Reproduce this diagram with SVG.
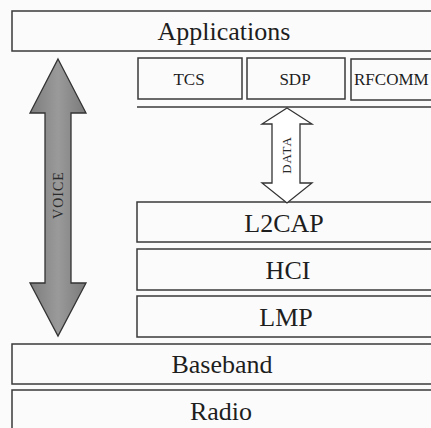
<svg xmlns="http://www.w3.org/2000/svg" width="431" height="428" viewBox="0 0 431 428">
  <style>
    .box { fill: #fbfbfb; stroke: #3a3a3a; stroke-width: 1.5; }
    .lbl { fill: #1e1e1e; text-anchor: middle; }
    .big { font-size: 26px; }
    .small { font-size: 17px; }
    .arrow-txt { fill: #2a2a2a; font-size: 14px; text-anchor: middle; letter-spacing: 1px; }
  </style>
  <defs>
    <linearGradient id="voiceFill" x1="0" y1="0" x2="1" y2="0">
      <stop offset="0" stop-color="#7d7d7d"/>
      <stop offset="0.5" stop-color="#9a9a9a"/>
      <stop offset="1" stop-color="#7a7a7a"/>
    </linearGradient>
  </defs>
  <rect x="0" y="0" width="431" height="428" fill="#fbfbfb"/>

  <g font-family="Liberation Serif, Times New Roman, Times, serif">
  <g id="applications">
    <rect class="box" x="12" y="11" width="430" height="40"/>
    <text class="lbl big" x="224" y="40">Applications</text>
  </g>
  <g id="tcs">
    <rect class="box" x="138" y="58" width="104" height="41"/>
    <text class="lbl small" x="189" y="85">TCS</text>
  </g>
  <g id="sdp">
    <rect class="box" x="247" y="58" width="98" height="41"/>
    <text class="lbl small" x="295" y="85">SDP</text>
  </g>
  <g id="rfcomm">
    <rect class="box" x="351" y="59" width="100" height="41"/>
    <text class="lbl small" x="354" y="85" text-anchor="start" style="text-anchor:start">RFCOMM</text>
  </g>
  <g id="upper-rule">
    <line x1="137" y1="107" x2="431" y2="107" stroke="#3a3a3a" stroke-width="1.5"/>
  </g>
  <g id="l2cap">
    <rect class="box" x="137" y="202" width="310" height="40"/>
    <text class="lbl big" x="284" y="232">L2CAP</text>
  </g>
  <g id="hci">
    <rect class="box" x="137" y="249" width="310" height="41"/>
    <text class="lbl big" x="288" y="279">HCI</text>
  </g>
  <g id="lmp">
    <rect class="box" x="137" y="296" width="310" height="41"/>
    <text class="lbl big" x="286" y="326">LMP</text>
  </g>
  <g id="baseband">
    <rect class="box" x="12" y="344" width="430" height="40"/>
    <text class="lbl big" x="222" y="373">Baseband</text>
  </g>
  <g id="radio">
    <rect class="box" x="12" y="390" width="430" height="50"/>
    <text class="lbl big" x="221" y="420">Radio</text>
  </g>

  <g id="connectors">
    <g id="voice">
      <polygon points="58,59 86,113 71,113 71,283 86,283 58,336 30,283 45,283 45,113 30,113" fill="url(#voiceFill)" stroke="#333" stroke-width="1.3"/>
      <text class="arrow-txt" transform="translate(63,195) rotate(-90)">VOICE</text>
    </g>
    <g id="data">
      <polygon points="287,108 312,124 300,124 300,183 312,183 287,203 262,183 272,183 272,124 262,124" fill="#ffffff" stroke="#333" stroke-width="1.3"/>
      <text class="arrow-txt" transform="translate(291,155) rotate(-90)" style="font-size:13px">DATA</text>
    </g>
  </g>
  </g>
</svg>
